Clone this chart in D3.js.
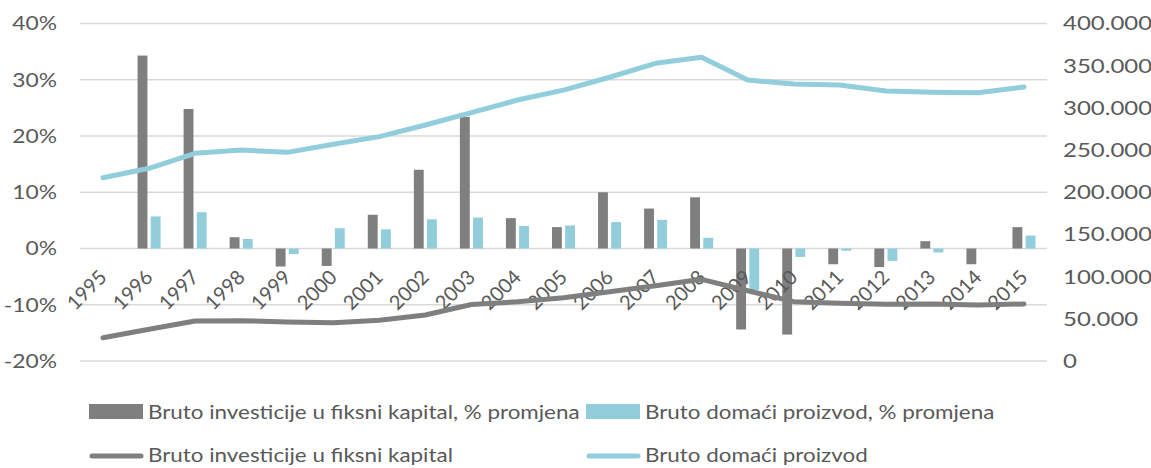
<!DOCTYPE html>
<html><head><meta charset="utf-8">
<script src="https://cdn.jsdelivr.net/npm/d3@7"></script>
<style>body{margin:0;background:#fff;} text{font-family:Lato,"Open Sans",sans-serif;fill:#595959;}</style>
</head><body>
<svg id="c" width="1151" height="468"></svg>
<script>
const years = ["1995","1996","1997","1998","1999","2000","2001","2002","2003","2004","2005","2006","2007","2008","2009","2010","2011","2012","2013","2014","2015"];
const invGrowth = [null, 34.3, 24.8, 2.0, -3.2, -3.1, 6.0, 14.0, 23.4, 5.4, 3.8, 10.0, 7.1, 9.1, -14.4, -15.3, -2.8, -3.3, 1.3, -2.8, 3.8];
const gdpGrowth = [null, 5.7, 6.45, 1.7, -1.0, 3.6, 3.4, 5.2, 5.5, 4.0, 4.1, 4.7, 5.1, 1.9, -7.4, -1.5, -0.4, -2.2, -0.7, 0, 2.3];
const invLevel = [27600, 37600, 47400, 47800, 46200, 45400, 48200, 54500, 67000, 70300, 75000, 82100, 89200, 96800, 83300, 70300, 68400, 67200, 67600, 66400, 67600];
const gdpLevel = [217200, 228400, 246200, 250100, 247300, 256800, 265900, 279700, 294300, 309300, 321000, 336300, 352800, 359900, 333000, 328300, 327100, 320000, 318500, 318000, 324700];
const leftTicks = [-20, -10, 0, 10, 20, 30, 40];
const rightTicks = [0, 50000, 100000, 150000, 200000, 250000, 300000, 350000, 400000];
const barSeries = ["Bruto investicije u fiksni kapital, % promjena", "Bruto domaći proizvod, % promjena"];
const lineSeries = ["Bruto investicije u fiksni kapital", "Bruto domaći proizvod"];
const colors = ["#7f7f7f", "#92cddc"];

const svg = d3.select("#c");
const L = 80, R = 1047, T = 23.5, B = 361;
const FS = 20;
const x = d3.scaleBand().domain(years).range([L, R]).padding(0);
const bw = x.bandwidth();
const x1 = d3.scaleBand().domain([0, 1]).range([bw * 0.25, bw * 0.75]).paddingInner(0.25);
const yL = d3.scaleLinear().domain([-20, 40]).range([B, T]);
const yR = d3.scaleLinear().domain([0, 400000]).range([B, T]);
const fmtR = v => d3.format(",")(v).replace(/,/g, ".");

// gridlines
svg.append("g").selectAll("line").data(leftTicks).join("line")
  .attr("x1", L).attr("x2", R).attr("y1", d => yL(d)).attr("y2", d => yL(d))
  .attr("stroke", "#d9d9d9").attr("stroke-width", 1.5);

// left axis
const gl = svg.append("g").attr("transform", `translate(${L - 23},0)`)
  .call(d3.axisLeft(yL).tickValues(leftTicks).tickSize(0).tickPadding(0).tickFormat(d => d + "%"));
gl.select(".domain").remove();
gl.selectAll("text").attr("font-size", FS).attr("fill", "#595959").attr("font-family", "Lato")
  .attr("transform", "scale(1.14,1)");

// right axis
const gr = svg.append("g").attr("transform", `translate(${R + 16},0)`)
  .call(d3.axisRight(yR).tickValues(rightTicks).tickSize(0).tickPadding(0).tickFormat(fmtR));
gr.select(".domain").remove();
gr.selectAll("text").attr("font-size", FS).attr("fill", "#595959").attr("font-family", "Lato")
  .attr("transform", "scale(1.2,1)");

// bars
const barData = [invGrowth, gdpGrowth];
barData.forEach((arr, si) => {
  svg.append("g").selectAll("rect").data(years.map((y, i) => ({y, v: arr[i]})).filter(d => d.v !== null)).join("rect")
    .attr("x", d => x(d.y) + x1(si))
    .attr("width", x1.bandwidth())
    .attr("y", d => yL(Math.max(0, d.v)))
    .attr("height", d => Math.abs(yL(d.v) - yL(0)))
    .attr("fill", colors[si]);
});

// x labels
svg.append("g").selectAll("text").data(years).join("text")
  .attr("transform", d => `translate(${x(d) + bw / 2 + 0},${yL(0) + 25}) rotate(-45)`)
  .attr("text-anchor", "end").attr("dy", "0.35em")
  .attr("font-size", FS).text(d => d);

// lines
const lineData = [invLevel, gdpLevel];
const line = d3.line().x((d, i) => x(years[i]) + bw / 2).y(d => yR(d));
lineData.forEach((arr, si) => {
  svg.append("path").datum(arr).attr("d", line).attr("fill", "none")
    .attr("stroke", colors[si]).attr("stroke-width", 5).attr("stroke-linecap", "round").attr("stroke-linejoin", "round");
});

// legend
const lg = svg.append("g");
const legX = [89, 586];
const LSX = 1.12;
barSeries.forEach((s, i) => {
  lg.append("rect").attr("x", legX[i]).attr("y", 404).attr("width", 54).attr("height", 15).attr("fill", colors[i]);
  lg.append("text").attr("transform", `translate(${legX[i] + 59},412) scale(${LSX},1)`).attr("dy", "0.35em").attr("font-size", FS).text(s);
});
lineSeries.forEach((s, i) => {
  lg.append("line").attr("x1", legX[i] + 3).attr("x2", legX[i] + 52).attr("y1", 456).attr("y2", 456)
    .attr("stroke", colors[i]).attr("stroke-width", 5).attr("stroke-linecap", "round");
  lg.append("text").attr("transform", `translate(${legX[i] + 59},455) scale(${LSX},1)`).attr("dy", "0.35em").attr("font-size", FS).text(s);
});
</script>
</body></html>
